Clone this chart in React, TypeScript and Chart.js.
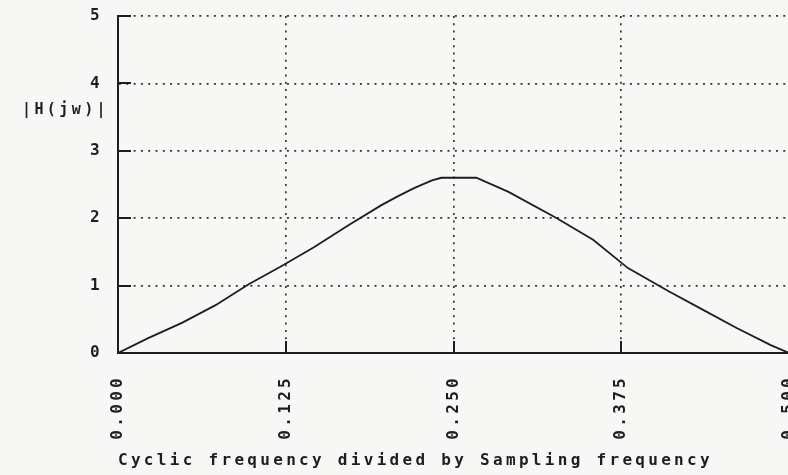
import React, { useEffect, useRef } from 'react';
import { Chart, registerables } from 'chart.js';

Chart.register(...registerables);

// Frequency (cycles / sample) and magnitude |H(jw)|
const freq = [
  0, 0.0225, 0.048, 0.0727, 0.0974, 0.121, 0.146, 0.172, 0.196, 0.208, 0.221, 0.234, 0.241,
  0.267, 0.291, 0.327, 0.354, 0.38, 0.411, 0.436, 0.461, 0.486, 0.5,
];
const magnitude = [
  0, 0.22, 0.45, 0.71, 1.02, 1.28, 1.57, 1.9, 2.19, 2.32, 2.45, 2.56, 2.6,
  2.6, 2.39, 2.0, 1.68, 1.26, 0.91, 0.64, 0.37, 0.12, 0,
];
const xTickValues = [0, 0.125, 0.25, 0.375, 0.5];
const yTickValues = [0, 1, 2, 3, 4, 5];
const xTitle = 'Cyclic frequency divided by Sampling frequency';
const yTitle = '|H(jw)|';

const INK = '#1e1e1e';
const BG = '#f7f7f5';
const FONT = 'DejaVu Sans Mono';
const LS = '3.3px';

export default function App() {
  const ref = useRef<HTMLCanvasElement | null>(null);

  useEffect(() => {
    const canvas = ref.current;
    if (!canvas) return;

    const plugin = {
      id: 'retro',
      beforeUpdate(chart: any) {
        chart.ctx.letterSpacing = LS;
      },
      beforeDraw(chart: any) {
        const ctx = chart.ctx;
        ctx.letterSpacing = LS;
        ctx.save();
        ctx.fillStyle = BG;
        ctx.fillRect(0, 0, chart.width, chart.height);
        ctx.restore();
      },
      afterDraw(chart: any) {
        const ctx = chart.ctx;
        const xs = chart.scales.x;
        const ys = chart.scales.y;
        const area = chart.chartArea;
        ctx.save();
        ctx.strokeStyle = INK;
        ctx.lineWidth = 2;
        ctx.setLineDash([]);
        // inside ticks on y axis
        yTickValues.forEach((v) => {
          if (v === 0) return;
          const py = Math.round(ys.getPixelForValue(v));
          ctx.beginPath();
          ctx.moveTo(area.left, py);
          ctx.lineTo(area.left + 13, py);
          ctx.stroke();
        });
        // inside ticks on x axis
        xTickValues.forEach((v) => {
          if (v === 0) return;
          const px = Math.round(xs.getPixelForValue(v));
          ctx.beginPath();
          ctx.moveTo(px, area.bottom);
          ctx.lineTo(px, area.bottom - 12);
          ctx.stroke();
        });
        // y-axis label (horizontal)
        ctx.letterSpacing = '3.4px';
        ctx.fillStyle = INK;
        ctx.font = `bold 15px "${FONT}"`;
        ctx.textAlign = 'left';
        ctx.textBaseline = 'middle';
        ctx.fillText(yTitle, 22, 110);
        ctx.restore();
      },
    };

    const chart = new Chart(canvas, {
      type: 'line',
      data: {
        datasets: [
          {
            data: freq.map((f, i) => ({ x: f, y: magnitude[i] })),
            borderColor: INK,
            borderWidth: 1.8,
            pointRadius: 0,
            tension: 0,
            fill: false,
          },
        ],
      },
      options: {
        animation: false,
        responsive: false,
        devicePixelRatio: 1,
        layout: { padding: { top: 16, right: 23, bottom: 0, left: 0 } },
        plugins: {
          legend: { display: false },
          tooltip: { enabled: false },
        },
        scales: {
          x: {
            type: 'linear',
            min: 0,
            max: 0.5,
            afterFit: (s: any) => {
              s.height = 122;
              s.paddingLeft = 0;
              s.paddingRight = 0;
            },
            afterBuildTicks: (s: any) => {
              s.ticks = xTickValues.map((v) => ({ value: v }));
            },
            ticks: {
              autoSkip: false,
              minRotation: 90,
              maxRotation: 90,
              padding: 22,
              color: INK,
              font: { family: FONT, size: 16, weight: 'bold' },
              callback: (v: any) => Number(v).toFixed(3),
            },
            grid: {
              drawTicks: false,
              color: '#333',
              lineWidth: 1.7,
            },
            border: { display: true, color: INK, width: 2, dash: [2, 5.3] },
            title: {
              display: true,
              text: xTitle,
              align: 'start',
              color: INK,
              font: { family: FONT, size: 16, weight: 'bold' },
              padding: { top: 0, bottom: 5 },
            },
          },
          y: {
            type: 'linear',
            min: 0,
            max: 5,
            afterFit: (s: any) => {
              s.width = 118;
              s.paddingTop = 0;
              s.paddingBottom = 0;
            },
            afterBuildTicks: (s: any) => {
              s.ticks = yTickValues.map((v) => ({ value: v }));
            },
            ticks: {
              padding: 15,
              color: INK,
              font: { family: FONT, size: 16, weight: 'bold' },
              callback: (v: any) => String(v),
            },
            grid: {
              drawTicks: false,
              color: '#333',
              lineWidth: 1.7,
            },
            border: { display: true, color: INK, width: 2, dash: [2, 5.3] },
          },
        },
      },
      plugins: [plugin],
    } as any);

    return () => chart.destroy();
  }, []);

  return (
    <div
      style={{
        position: 'fixed',
        left: 0,
        top: 0,
        width: 788,
        height: 475,
        overflow: 'hidden',
        background: BG,
      }}
    >
      <canvas ref={ref} width={812} height={475} style={{ display: 'block', width: 812, height: 475 }} />
    </div>
  );
}
